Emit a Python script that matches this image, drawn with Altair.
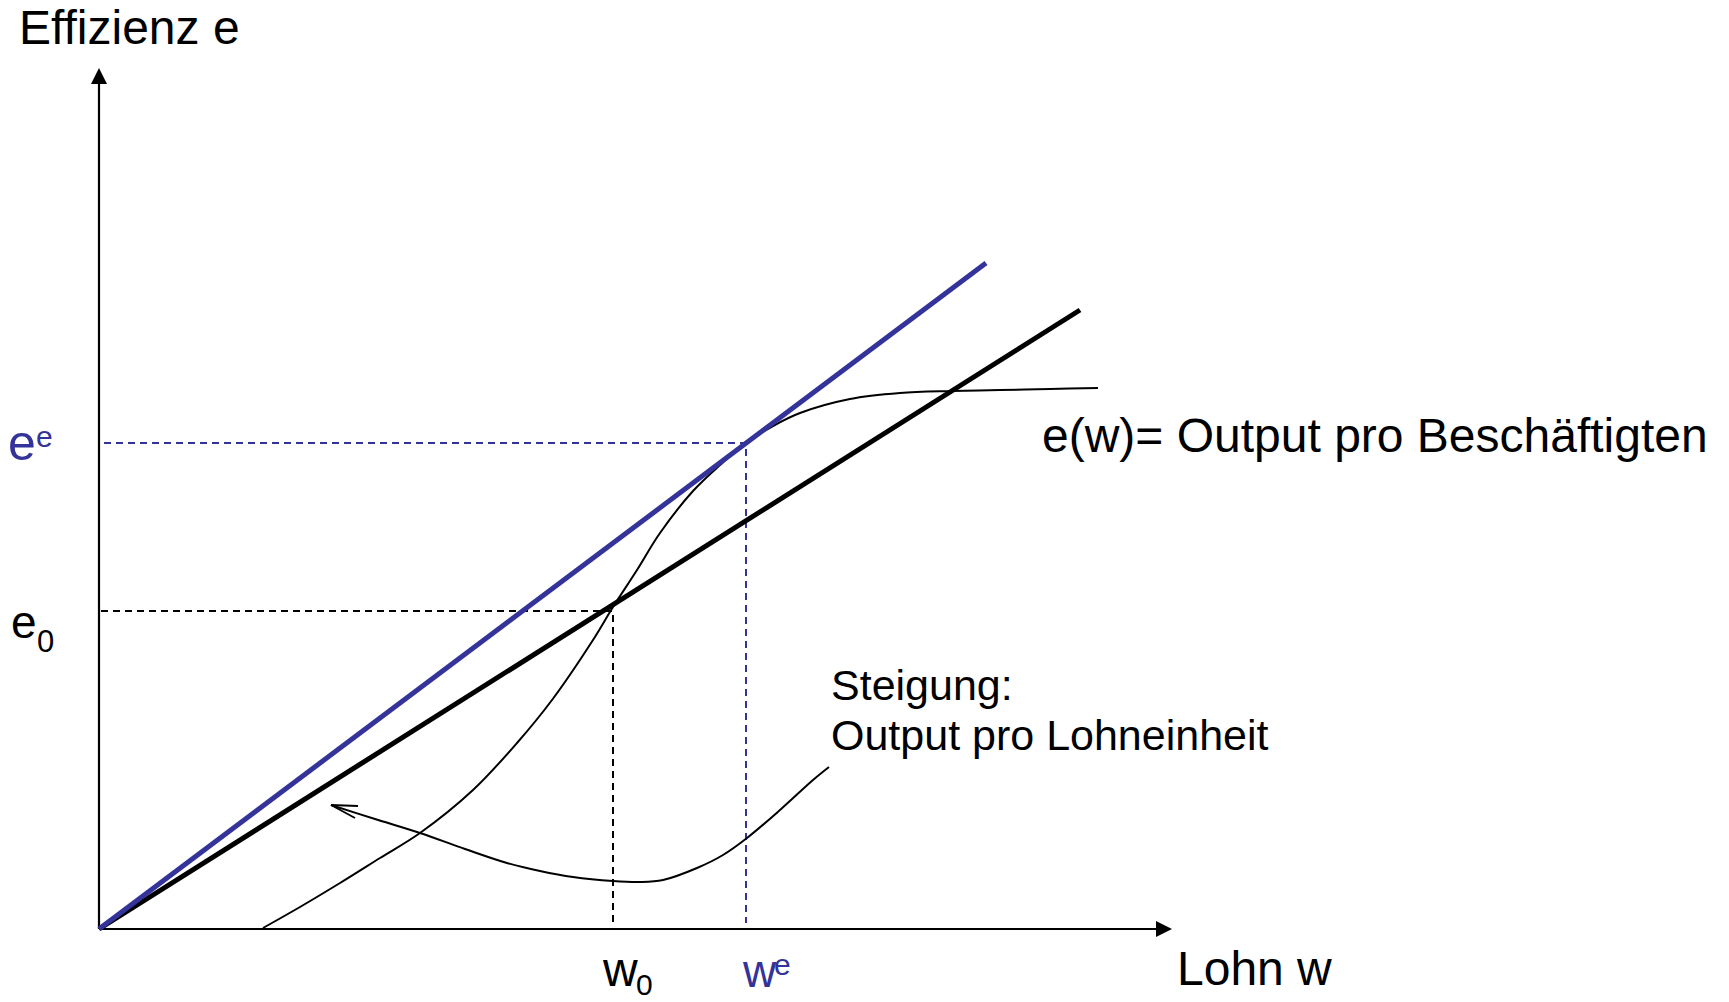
import altair as alt
import pandas as pd

# ---------------- data (abstract units: w = wage, e = effort) ----------------
BLUE = "#333399"

# S-shaped effort function e(w)
curve_w = [1.64, 2.01, 2.41, 2.81, 3.21, 3.74, 4.18, 4.53, 4.94, 5.14, 5.38, 5.61,
           5.94, 6.21, 6.47, 6.74, 7.01, 7.51, 8.01, 8.53, 9.01, 9.51, 9.99]
curve_e = [0.01, 0.22, 0.46, 0.71, 0.96, 1.39, 1.86, 2.29, 2.89, 3.22, 3.59, 3.96,
           4.38, 4.64, 4.86, 5.03, 5.16, 5.30, 5.36, 5.38, 5.39, 5.40, 5.41]

# rays through the origin
blue_ray_w = [0.0, 8.87]
blue_ray_e = [0.0, 6.66]
black_ray_w = [0.0, 9.81]
black_ray_e = [0.0, 6.19]

# key values
w0, e0 = 5.14, 3.18
we, ee = 6.47, 4.86

# axes extent
x_axis_end = 10.73
y_axis_end = 8.61

# annotation pointer curve (from label to the ray)
ann_w = [2.32, 2.76, 3.21, 3.66, 4.08, 4.41, 4.74, 5.14, 5.41, 5.64, 5.98, 6.24,
         6.48, 6.81, 7.14, 7.30]
ann_e = [1.24, 1.10, 0.96, 0.80, 0.66, 0.58, 0.52, 0.48, 0.47, 0.49, 0.61, 0.74,
         0.91, 1.19, 1.49, 1.62]
arm_w = [2.32, 2.59, 2.32, 2.56]
arm_e = [1.24, 1.23, 1.24, 1.11]
arm_id = [0, 0, 1, 1]

# texts
txt = ["Effizienz e", "e", "e", "e", "0", "w", "0", "w", "e", "Lohn w",
       "e(w)= Output pro Beschäftigten", "Steigung:", "Output pro Lohneinheit"]
txt_w = [-0.80, -0.91, -0.63, -0.88, -0.62, 5.04, 5.37, 6.44, 6.75, 10.78, 9.43, 7.32, 7.32]
txt_e = [8.85, 4.69, 4.82, 2.91, 2.77, -0.57, -0.66, -0.58, -0.46, -0.56, 4.77, 2.29, 1.79]
txt_fs = [48, 50, 30, 46, 31, 48, 30, 46, 30, 48, 48, 43, 43]
txt_col = ["black", BLUE, BLUE, "black", "black", "black", "black", BLUE, BLUE,
           "black", "black", "black", "black"]

# ---------------- chart ----------------
W, H = 1713, 994
xs = alt.Scale(domain=[-0.91, 16.22], nice=False, zero=False)
ys = alt.Scale(domain=[-0.73, 9.21], nice=False, zero=False)
X = lambda f="w": alt.X(f"{f}:Q", scale=xs, axis=None)
Y = lambda f="e": alt.Y(f"{f}:Q", scale=ys, axis=None)


def seg_df(ws, es, ids=None):
    d = pd.DataFrame({"w": ws, "e": es})
    d["i"] = range(len(d))
    d["id"] = ids if ids is not None else 0
    return d


def line_layer(df, color, width, dash=None, interp="linear"):
    kw = dict(color=color, strokeWidth=width, interpolate=interp, strokeCap="butt")
    if dash:
        kw["strokeDash"] = dash
    return alt.Chart(df).mark_line(**kw).encode(
        x=X(), y=Y(), detail="id:N", order="i:Q")


dash_black = line_layer(seg_df([0.02, w0, w0], [e0, e0, 0.06]), "black", 2.0, [7, 5])
dash_blue = line_layer(seg_df([0.05, we, we], [ee, ee, 0.06]), BLUE, 2.0, [7, 5])
axes = line_layer(seg_df([0, x_axis_end - 0.12, 0, 0], [0, 0, 0, y_axis_end - 0.12],
                         [0, 0, 1, 1]), "black", 2.2)
s_curve = line_layer(seg_df(curve_w, curve_e), "black", 2.0, interp="catmull-rom")
ann = line_layer(seg_df(ann_w, ann_e), "black", 2.0, interp="catmull-rom")
arms = line_layer(seg_df(arm_w, arm_e, arm_id), "black", 1.8)
black_ray = line_layer(seg_df(black_ray_w, black_ray_e), "black", 5.0)
blue_ray = line_layer(seg_df(blue_ray_w, blue_ray_e), BLUE, 5.0)

head_up = alt.Chart(pd.DataFrame({"w": [0.0], "e": [y_axis_end]})).mark_point(
    shape="M0,0 L-1,2 L1,2 Z", size=256, filled=True, color="black", opacity=1,
    strokeWidth=0).encode(x=X(), y=Y())
head_right = alt.Chart(pd.DataFrame({"w": [x_axis_end], "e": [0.0]})).mark_point(
    shape="M0,0 L-2,-1 L-2,1 Z", size=256, filled=True, color="black", opacity=1,
    strokeWidth=0).encode(x=X(), y=Y())

tdf = pd.DataFrame({"t": txt, "w": txt_w, "e": txt_e, "fs": txt_fs, "col": txt_col})
texts = alt.Chart(tdf).mark_text(align="left", baseline="alphabetic",
                                 font="Liberation Sans").encode(
    x=X(), y=Y(), text="t:N",
    size=alt.Size("fs:Q", scale=None),
    color=alt.Color("col:N", scale=None))

chart = alt.layer(dash_black, dash_blue, axes, s_curve, ann, arms, black_ray, blue_ray,
                  head_up, head_right, texts).properties(
    width=W, height=H, padding=0,
    autosize=alt.AutoSizeParams(type="none"),
    background="white",
).configure_view(stroke=None)

chart.save("out.html", embed_options={"renderer": "svg", "actions": False})
